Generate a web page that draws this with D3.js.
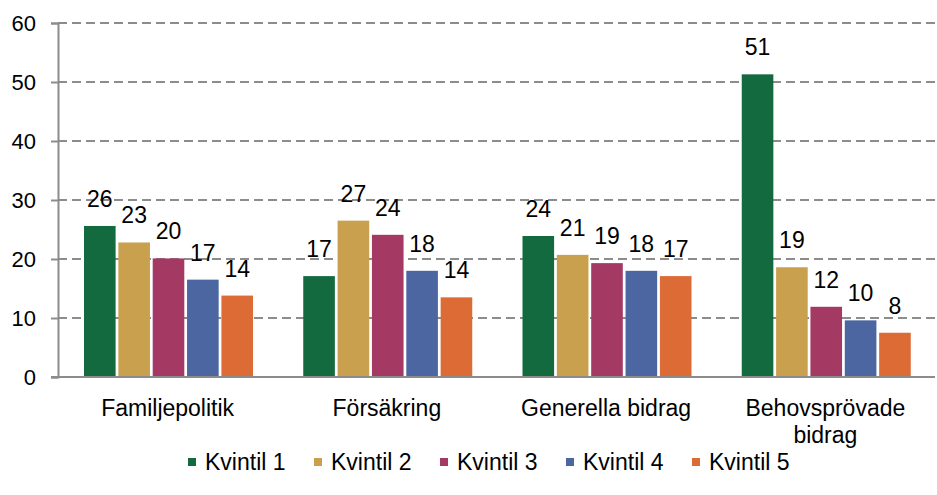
<!DOCTYPE html>
<html>
<head>
<meta charset="utf-8">
<script src="https://cdn.jsdelivr.net/npm/d3@7"></script>
<style>
  body { margin: 0; background: #fff; }
  svg text { font-family: "Liberation Sans", Arial, sans-serif; fill: #000; }
</style>
</head>
<body>
<div id="canvas"></div>
<script>
const width = 937;
const height = 495;

const categories = ['Familjepolitik', 'Försäkring', 'Generella bidrag', 'Behovsprövade bidrag'];
const series = ['Kvintil 1', 'Kvintil 2', 'Kvintil 3', 'Kvintil 4', 'Kvintil 5'];
const kvintil1 = [25.6, 17.1, 23.9, 51.3];
const kvintil2 = [22.8, 26.5, 20.7, 18.6];
const kvintil3 = [20.1, 24.1, 19.3, 11.9];
const kvintil4 = [16.5, 18.0, 18.0, 9.6];
const kvintil5 = [13.8, 13.5, 17.1, 7.5];
const yTicks = [0, 10, 20, 30, 40, 50, 60];
const colors = ['#146a3f', '#c9a04e', '#a43a63', '#4b66a0', '#dc6b35'];

const values = [kvintil1, kvintil2, kvintil3, kvintil4, kvintil5];

const svg = d3.select('#canvas').append('svg')
  .attr('width', width)
  .attr('height', height);

const plotLeft = 58, plotRight = 935, plotTop = 23, plotBottom = 377;

const yScale = d3.scaleLinear().domain([0, 60]).range([plotBottom, plotTop]);
const x0 = d3.scaleBand().domain(categories).range([plotLeft, plotRight]);
const x1 = d3.scaleBand().domain(series).range([26, 195]).paddingInner(0.08);

// grid lines
svg.append('g')
  .selectAll('line')
  .data(yTicks.filter(d => d > 0))
  .join('line')
  .attr('x1', plotLeft).attr('x2', plotRight)
  .attr('y1', d => yScale(d)).attr('y2', d => yScale(d))
  .attr('stroke', '#8c8c8c')
  .attr('stroke-width', 2)
  .attr('stroke-dasharray', '9,5');

// y axis
const yAxis = d3.axisLeft(yScale).tickValues(yTicks).tickSize(7).tickPadding(15);
const yg = svg.append('g').attr('transform', `translate(${plotLeft},0)`).call(yAxis);
yg.select('.domain').attr('stroke', '#8c8c8c').attr('stroke-width', 2);
yg.selectAll('.tick line').attr('stroke', '#8c8c8c').attr('stroke-width', 2);
yg.selectAll('.tick text').style('font-size', '22px').attr('dy', '0.35em');

// bars
const groups = svg.append('g')
  .selectAll('g')
  .data(categories)
  .join('g')
  .attr('transform', d => `translate(${x0(d)},0)`);

groups.each(function(cat, ci) {
  const g = d3.select(this);
  series.forEach((s, si) => {
    const v = values[si][ci];
    g.append('rect')
      .attr('x', x1(s))
      .attr('y', yScale(v))
      .attr('width', x1.bandwidth())
      .attr('height', yScale(0) - yScale(v))
      .attr('fill', colors[si]);
    g.append('text')
      .attr('x', x1(s) + x1.bandwidth() / 2)
      .attr('y', yScale(v) - 19)
      .attr('text-anchor', 'middle')
      .style('font-size', '23px')
      .text(Math.round(v));
  });
});

// x axis
svg.append('line')
  .attr('x1', plotLeft - 7).attr('x2', plotRight)
  .attr('y1', plotBottom).attr('y2', plotBottom)
  .attr('stroke', '#8c8c8c')
  .attr('stroke-width', 2);

const xLabels = svg.append('g')
  .selectAll('text')
  .data(categories)
  .join('text')
  .attr('x', d => x0(d) + x0.bandwidth() / 2)
  .attr('y', 416)
  .attr('text-anchor', 'middle')
  .style('font-size', '23px');

xLabels.each(function(d) {
  const t = d3.select(this);
  const lines = d === 'Behovsprövade bidrag' ? ['Behovsprövade', 'bidrag'] : [d];
  lines.forEach((l, i) => {
    t.append('tspan')
      .attr('x', x0(d) + x0.bandwidth() / 2)
      .attr('dy', i === 0 ? 0 : 27)
      .text(l);
  });
});

// legend
const legend = svg.append('g')
  .selectAll('g')
  .data(series)
  .join('g')
  .attr('transform', (d, i) => `translate(${188 + i * 126},0)`);

legend.append('rect')
  .attr('x', 0).attr('y', 458)
  .attr('width', 8).attr('height', 8)
  .attr('fill', (d, i) => colors[i]);

legend.append('text')
  .attr('x', 17).attr('y', 470)
  .style('font-size', '23px')
  .text(d => d);
</script>
</body>
</html>
